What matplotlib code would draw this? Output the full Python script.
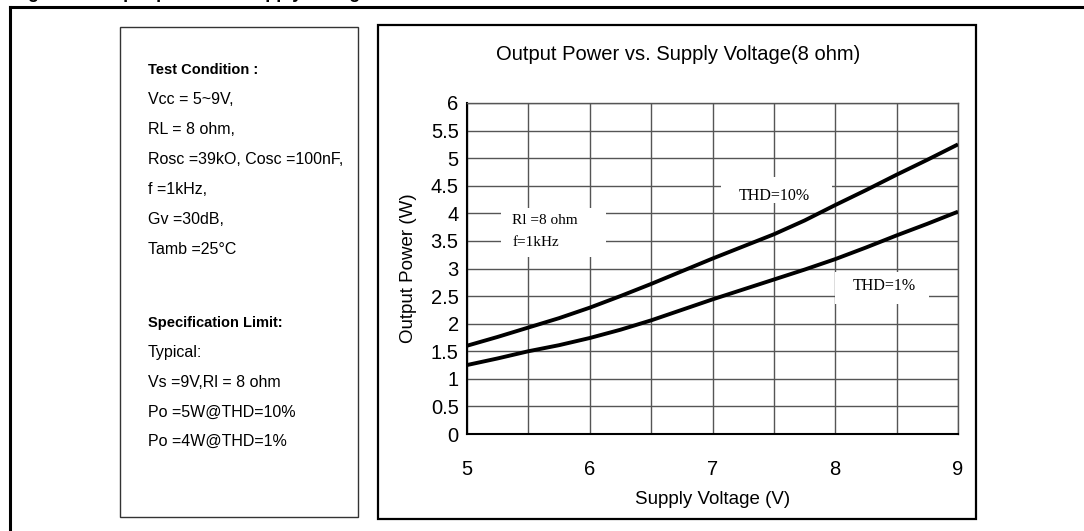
import matplotlib
matplotlib.use("Agg")
import matplotlib.pyplot as plt
from matplotlib.patches import Rectangle
from matplotlib.lines import Line2D

plt.rcParams['font.family'] = ['Liberation Sans', 'DejaVu Sans']

# --------- DATOS ---------
voltaje = [5, 5.25, 5.5, 5.75, 6, 6.25, 6.5, 6.75, 7, 7.25, 7.5, 7.75, 8, 8.25, 8.5, 8.75, 9]
potencia_thd10 = [1.60, 1.76, 1.93, 2.10, 2.29, 2.50, 2.72, 2.95, 3.18, 3.40, 3.62,
                  3.87, 4.15, 4.42, 4.70, 4.97, 5.25]
potencia_thd1 = [1.25, 1.37, 1.50, 1.61, 1.74, 1.89, 2.06, 2.25, 2.44, 2.62, 2.80,
                 2.98, 3.17, 3.38, 3.60, 3.81, 4.03]

y_ticks = [0, 0.5, 1, 1.5, 2, 2.5, 3, 3.5, 4, 4.5, 5, 5.5, 6]
y_labels = ['0', '0.5', '1', '1.5', '2', '2.5', '3', '3.5', '4', '4.5', '5', '5.5', '6']
x_ticks = [5, 5.5, 6, 6.5, 7, 7.5, 8, 8.5, 9]
x_labels = ['5', '', '6', '', '7', '', '8', '', '9']

titulo = 'Output Power vs. Supply Voltage(8 ohm)'
etiqueta_x = 'Supply Voltage (V)'
etiqueta_y = 'Output Power (W)'

condiciones = ['Vcc = 5~9V,', 'RL = 8 ohm,', 'Rosc =39kO, Cosc =100nF,',
               'f =1kHz,', 'Gv =30dB,', 'Tamb =25\u00b0C']
limites = ['Typical:', 'Vs =9V,Rl = 8 ohm', 'Po =5W@THD=10%', 'Po =4W@THD=1%']

W, H = 1084, 531
fig = plt.figure(figsize=(W / 100, H / 100), dpi=100)


def fx(px):
    return px / W


def fy(py):
    return 1 - py / H


# --------- MARCOS ---------
# marco exterior (solo borde superior e izquierdo visibles)
fig.add_artist(Line2D([fx(10), 1.0], [fy(7), fy(7)], color='black', lw=2.2))
fig.add_artist(Line2D([fx(10), fx(10)], [fy(7), 0], color='black', lw=2.2))

# recuadro de condiciones
fig.add_artist(Rectangle((fx(120), fy(517)), fx(358) - fx(120), fy(27) - fy(517),
                         fill=False, edgecolor='#333333', lw=1.0))
# recuadro de la grafica
fig.add_artist(Rectangle((fx(378), fy(519)), fx(976) - fx(378), fy(25) - fy(519),
                         fill=False, edgecolor='black', lw=1.6))

# titulo de la figura (cortado en el borde superior)
fig.text(fx(12), fy(-2), 'Figure 8. Output power vs. supply voltage', fontsize=13,
         fontweight='bold', ha='left', va='baseline')

# --------- TEXTO DE CONDICIONES ---------
x_txt = fx(148)
fig.text(x_txt, fy(70), 'Test Condition :', fontsize=10.5, fontweight='bold', va='center')
for i, linea in enumerate(condiciones):
    fig.text(x_txt, fy(100 + 30 * i), linea, fontsize=11.5, va='center')
fig.text(x_txt, fy(323), 'Specification Limit:', fontsize=10.5, fontweight='bold', va='center')
for i, linea in enumerate(limites):
    fig.text(x_txt, fy(353 + 29.5 * i), linea, fontsize=11.5, va='center')

# titulo centrado en el recuadro de la grafica
fig.text(fx(678), fy(55), titulo, fontsize=14.5, ha='center', va='center')

# --------- GRAFICA ---------
ax = fig.add_axes([fx(467), fy(434), fx(958) - fx(467), fy(103) - fy(434)])
ax.set_xlim(5, 9)
ax.set_ylim(0, 6)
ax.set_xticks(x_ticks)
ax.set_xticklabels(x_labels)
ax.set_yticks(y_ticks)
ax.set_yticklabels(y_labels)
ax.grid(True, color='#555555', lw=1.0, zorder=1)
ax.set_axisbelow(True)
ax.tick_params(axis='both', length=0, labelsize=14.5, colors='black')
ax.tick_params(axis='x', pad=19)
ax.tick_params(axis='y', pad=6)
for lado in ['top', 'right']:
    ax.spines[lado].set_color('#555555')
    ax.spines[lado].set_linewidth(1.0)
for lado in ['left', 'bottom']:
    ax.spines[lado].set_color('black')
    ax.spines[lado].set_linewidth(1.5)

# fondos blancos de las anotaciones
ax.add_patch(Rectangle((5.28, 3.2), 0.85, 0.9, facecolor='white', edgecolor='none', zorder=2))
ax.add_patch(Rectangle((7.07, 4.18), 0.90, 0.48, facecolor='white', edgecolor='none', zorder=2))
ax.add_patch(Rectangle((8.0, 2.36), 0.76, 0.57, facecolor='white', edgecolor='none', zorder=2))

ax.plot(voltaje, potencia_thd10, color='black', lw=2.8, zorder=3, solid_capstyle='butt')
ax.plot(voltaje, potencia_thd1, color='black', lw=2.8, zorder=3, solid_capstyle='butt')

serif = ['Liberation Serif', 'DejaVu Serif']
ax.text(5.37, 3.87, 'Rl =8 ohm', family=serif, fontsize=11, va='center', ha='left', zorder=4)
ax.text(5.37, 3.48, 'f=1kHz', family=serif, fontsize=11, va='center', ha='left', zorder=4)
ax.text(7.50, 4.32, 'THD=10%', family=serif, fontsize=11.5, va='center', ha='center', zorder=4)
ax.text(8.40, 2.69, 'THD=1%', family=serif, fontsize=11.5, va='center', ha='center', zorder=4)

ax.set_xlabel(etiqueta_x, fontsize=13.5, labelpad=8)
ax.set_ylabel(etiqueta_y, fontsize=13.5, labelpad=10)

fig.savefig('out.png', dpi=100)
